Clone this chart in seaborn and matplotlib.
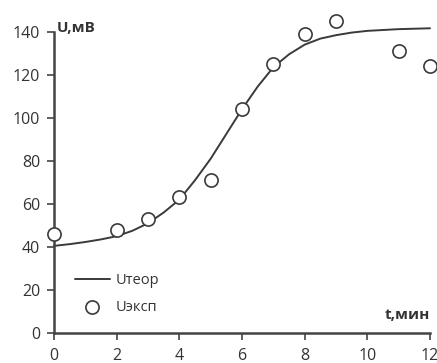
import matplotlib
matplotlib.use("Agg")
import matplotlib.pyplot as plt
import seaborn as sns
import pandas as pd

# Theoretical curve
t_theor = [0, 0.5, 1, 1.5, 2, 2.5, 3, 3.5, 4, 4.5, 5, 5.5, 6, 6.5, 7, 7.5, 8, 8.5, 9, 9.5, 10, 11, 12]
u_theor = [40.5, 41.3, 42.3, 43.5, 45, 47.5, 51, 56, 62, 71, 81, 92.5, 104, 114.5, 123.5, 129.5,
           134, 136.8, 138.4, 139.6, 140.4, 141.2, 141.6]

# Experimental points
t_exp = [0, 2, 3, 4, 5, 6, 7, 8, 9, 11, 12]
u_exp = [46, 48, 53, 63, 71, 104, 125, 139, 145, 131, 124]

x_ticks = [0, 2, 4, 6, 8, 10, 12]
y_ticks = [0, 20, 40, 60, 80, 100, 120, 140]

sns.set_style("white")
plt.rcParams['font.family'] = ['Open Sans', 'DejaVu Sans']

fig = plt.figure(figsize=(4.37, 3.63), dpi=100)
ax = fig.add_axes([0.1236, 0.0826, 0.8604, 0.830])

col = "#3a3a3a"
df_t = pd.DataFrame({"t": t_theor, "u": u_theor})
df_e = pd.DataFrame({"t": t_exp, "u": u_exp})

sns.lineplot(data=df_t, x="t", y="u", ax=ax, color=col, linewidth=1.4, label="Uтеор",
             clip_on=False)
sns.scatterplot(data=df_e, x="t", y="u", ax=ax, marker="o", s=90,
                facecolor="white", edgecolor=col, linewidth=1.2, label="Uэксп",
                clip_on=False, zorder=3)

ax.set_xlim(0, 12)
ax.set_ylim(0, 140)
ax.set_xticks(x_ticks)
ax.set_yticks(y_ticks)
ax.set_xlabel("")
ax.set_ylabel("")

for s in ["top", "right"]:
    ax.spines[s].set_visible(False)
for s in ["left", "bottom"]:
    ax.spines[s].set_color("#444444")
    ax.spines[s].set_linewidth(1.8)

ax.tick_params(axis="both", direction="out", length=5, width=1.2, color="#444444",
               labelsize=11.5, labelcolor="#333333", pad=5)
ax.tick_params(axis="x", bottom=True, pad=5.5)
ax.tick_params(axis="y", left=True, pad=5)

ax.text(0.008, 1.0, "U,мВ", transform=ax.transAxes, fontsize=11, fontweight="bold",
        color="#333333", ha="left", va="baseline")
ax.text(1.0, 0.045, "t,мин", transform=ax.transAxes, fontsize=11, fontweight="bold",
        color="#333333", ha="right", va="baseline")

leg = ax.legend(loc="lower left", bbox_to_anchor=(0.04, 0.04), frameon=False,
                fontsize=10.5, handlelength=2.4, labelspacing=0.85, handletextpad=0.4,
                labelcolor="#333333", borderaxespad=0)

fig.savefig("out.png", dpi=100)
